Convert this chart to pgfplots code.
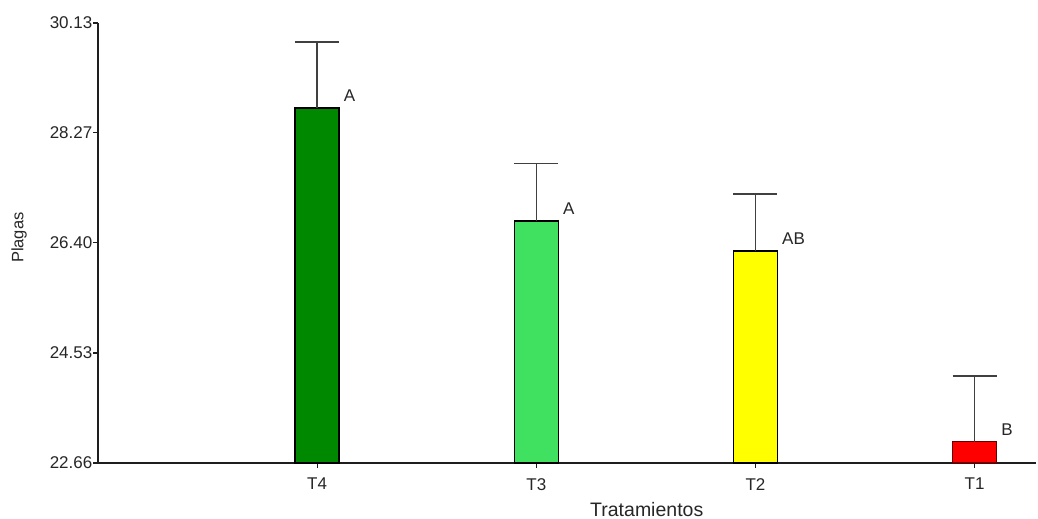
\documentclass[border=0pt]{standalone}
\usepackage{pgfplots}
\pgfplotsset{compat=1.18}
\usepackage{fontspec}
\setmainfont{Liberation Sans}
\definecolor{cT4}{RGB}{0,136,0}
\definecolor{cT3}{RGB}{64,224,96}
\definecolor{cT2}{RGB}{255,255,0}
\definecolor{cT1}{RGB}{255,0,0}
\definecolor{edge}{RGB}{30,30,30}
\pgfplotsset{myerr/.style={error bars/.cd, y dir=plus, y explicit,
    error bar style={line width=1.4pt, color=black!75},
    error mark options={rotate=90, line width=1.4pt, color=black!75, mark size=22pt}}}
\begin{document}
\begin{tikzpicture}
\useasboundingbox (0,0) rectangle (1038pt,519pt);
\begin{axis}[
  at={(98pt,56pt)}, anchor=south west,
  scale only axis, width=938pt, height=440pt,
  xmin=0, xmax=4.28, ymin=22.66, ymax=30.13,
  axis x line*=bottom, axis y line*=left,
  axis line style={-, line width=1.4pt, color=edge},
  xtick={1,2,3,4}, xticklabels={T4,T3,T2,T1},
  ytick={22.66,24.53,26.40,28.27,30.13},
  yticklabels={22.66,24.53,26.40,28.27,30.13},
  tick align=outside, major tick length=5pt,
  tick style={line width=1.3pt, color=edge},
  /pgf/number format/assume math mode=true,
  ticklabel style={font=\fontsize{17}{20}\selectfont, color=black!85},
  yticklabel style={inner sep=0.5pt},
  xticklabel style={inner sep=0pt, yshift=-10pt},
  xlabel={Tratamientos}, ylabel={Plagas},
  xlabel style={font=\fontsize{19.5}{22}\selectfont, color=black!85,
    at={(axis description cs:0.585,-0.1227)}, anchor=base},
  ylabel style={font=\fontsize{16.5}{20}\selectfont, color=black!85,
    at={(axis description cs:-0.0842,0.512)}, anchor=center},
  ybar, bar width=44pt,
  clip=false,
  every axis plot/.append style={bar shift=0pt, draw=black, line width=1.4pt},
  point meta=explicit symbolic,
  nodes near coords,
  nodes near coords style={anchor=south west, inner sep=0pt, xshift=26pt, yshift=6pt,
    font=\fontsize{17}{20}\selectfont, color=black!85},
]
\addplot[fill=cT4, myerr] table[x=x, y=y, y error=e, meta=l, row sep=\\] {x y e l \\ 1 28.69 1.12 A \\};
\addplot[fill=cT3, myerr] table[x=x, y=y, y error=e, meta=l, row sep=\\] {x y e l \\ 2 26.77 0.97 A \\};
\addplot[fill=cT2, myerr] table[x=x, y=y, y error=e, meta=l, row sep=\\] {x y e l \\ 3 26.26 0.97 AB \\};
\addplot[fill=cT1, draw=black!60!red, myerr] table[x=x, y=y, y error=e, meta=l, row sep=\\] {x y e l \\ 4 23.02 1.12 B \\};
\end{axis}
\end{tikzpicture}
\end{document}
